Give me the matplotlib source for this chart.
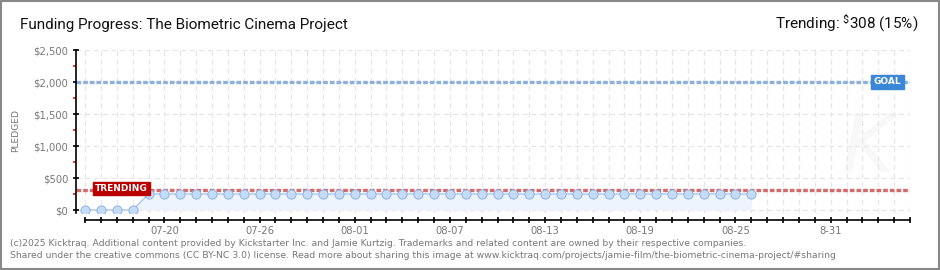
import matplotlib
matplotlib.use("Agg")
import matplotlib.pyplot as plt
import matplotlib.patches as mpatches
from matplotlib.ticker import FixedLocator
import pandas as pd
import numpy as np

# ---------------- data ----------------
dates = pd.date_range("2025-07-15", "2025-08-26", freq="D").strftime("%Y-%m-%d").tolist()
pledged = [0, 0, 0, 0] + [250] * 39
goal = 2000
trending = 308
axis_start = "2025-07-15"
axis_end = "2025-09-05"
tick_dates = ["2025-07-20", "2025-07-26", "2025-08-01", "2025-08-07",
              "2025-08-13", "2025-08-19", "2025-08-25", "2025-08-31"]
tick_labels = ["07-20", "07-26", "08-01", "08-07", "08-13", "08-19", "08-25", "8-31"]
y_ticks = [0, 500, 1000, 1500, 2000, 2500]
y_tick_labels = ["$0", "$500", "$1,000", "$1,500", "$2,000", "$2,500"]
title = "Funding Progress: The Biometric Cinema Project"
footer1 = ("(c)2025 Kicktraq. Additional content provided by Kickstarter Inc. and Jamie Kurtzig. "
           "Trademarks and related content are owned by their respective companies.")
footer2 = ("Shared under the creative commons (CC BY-NC 3.0) license. Read more about sharing this "
           "image at www.kicktraq.com/projects/jamie-film/the-biometric-cinema-project/#sharing")

# ---------------- helpers ----------------
t0 = pd.Timestamp(axis_start)
def day(s):
    return (pd.Timestamp(s) - t0).days

x = np.array([day(d) for d in dates])
y = np.array(pledged)
x_end = day(axis_end)

W, H = 940, 270
fig = plt.figure(figsize=(W / 100, H / 100), dpi=100)
fig.patch.set_facecolor("white")

# plot area: x 76..910 px, y 50..213.2 px
ax = fig.add_axes([76 / W, (H - 213.2) / H, (910 - 76) / W, 163.2 / H])
ax.set_xlim(-0.57, x_end)
ax.set_ylim(-50, 2500)
ax.set_facecolor("none")

# grid
for gx in range(0, x_end + 1):
    ax.axvline(gx, color="#e6e6e6", lw=0.9, ls=(0, (4, 3)), zorder=0)
for gy in y_ticks:
    ax.axhline(gy, color="#e6e6e6", lw=0.9, ls=(0, (4, 3)), zorder=0)

# watermark
fig.text(868 / W, 1 - 150 / H, "K", fontsize=58, color="#f8f8f8", style="italic",
         ha="center", va="center", family="DejaVu Sans", zorder=-1)

# goal and trending lines
ax.plot([-0.57, x_end], [goal, goal], color="#8eb0dc", lw=2.4,
        ls=(0, (1.4, 0.6)), zorder=2)
ax.plot([-0.57, x_end], [trending, trending], color="#d46a6a", lw=2.4,
        ls=(0, (1.4, 0.6)), zorder=2)

# series
ax.fill_between(x, 0, y, color="#edf4fd", zorder=1, lw=0)
ax.plot(x, y, color="#a8c8ee", lw=1.0, zorder=3)
ax.plot(x, y, ls="none", marker="o", ms=6.6, mfc="#c4dcf8", mec="#8fb2e0",
        mew=0.7, zorder=4)

# labels on lines
ax.text(0.62, trending + 30, "TRENDING", fontsize=6.5, color="white", weight="bold",
        family="DejaVu Sans", ha="left", va="center", zorder=6,
        bbox=dict(boxstyle="square,pad=0.25", fc="#bb0000", ec="#bb0000"))
ax.text(51.45, goal, "GOAL", fontsize=6.5, color="white", weight="bold",
        family="DejaVu Sans", ha="right", va="center", zorder=6,
        bbox=dict(boxstyle="square,pad=0.3", fc="#3a86d8", ec="#3a86d8"))

# spines
for s in ["top", "right"]:
    ax.spines[s].set_visible(False)
ax.spines["left"].set_color("black")
ax.spines["left"].set_linewidth(1.2)
ax.spines["bottom"].set_position(("outward", 5))
ax.spines["bottom"].set_bounds(0, x_end)
ax.spines["bottom"].set_linewidth(1.2)

# y ticks
ax.set_yticks(y_ticks)
ax.set_yticklabels(y_tick_labels)
ax.yaxis.set_minor_locator(FixedLocator([250, 750, 1250, 1750, 2250]))
ax.tick_params(axis="y", which="major", direction="inout", length=5, width=1.2,
               labelsize=7.2, labelcolor="#777777", pad=3)
ax.tick_params(axis="y", which="minor", direction="out", length=2.5, width=1.1,
               color="#dd0000")
for lbl in ax.get_yticklabels():
    lbl.set_family("DejaVu Sans")

# x ticks
ax.xaxis.set_major_locator(FixedLocator([day(d) for d in tick_dates]))
ax.set_xticklabels(tick_labels)
ax.xaxis.set_minor_locator(FixedLocator(list(range(0, x_end + 1))))
ax.tick_params(axis="x", which="both", direction="inout", length=5, width=1.2,
               labelsize=7.2, labelcolor="#777777", pad=1.5)
for lbl in ax.get_xticklabels():
    lbl.set_family("DejaVu Sans")

ax.set_ylabel("PLEDGED", fontsize=6.6, color="#777777", family="DejaVu Sans", labelpad=0)
ax.yaxis.set_label_coords(-(76 - 20) / (910 - 76), (213.2 - 130) / 163.2)

# titles
fig.text(20 / W, 1 - 29 / H, title, fontsize=11, color="#111111",
         family=["Roboto", "DejaVu Sans"], ha="left", va="baseline")
fig.text(918 / W, 1 - 29 / H, "Trending: $\\mathregular{^{\\$}}$308 (15%)", fontsize=11,
         color="#111111", family=["Roboto", "DejaVu Sans"],
         ha="right", va="baseline")

# footer
fig.text(10 / W, 1 - 246 / H, footer1, fontsize=6.65, color="#777777",
         family="DejaVu Sans", ha="left", va="baseline")
fig.text(10 / W, 1 - 258 / H, footer2, fontsize=6.65, color="#777777",
         family="DejaVu Sans", ha="left", va="baseline")

# frame
fig.add_artist(mpatches.Rectangle((1 / W, 1 / H), (W - 2) / W, (H - 2) / H,
                                  transform=fig.transFigure, fill=False,
                                  ec="#888888", lw=1.5))

fig.savefig("out.png", dpi=100, facecolor="white")
